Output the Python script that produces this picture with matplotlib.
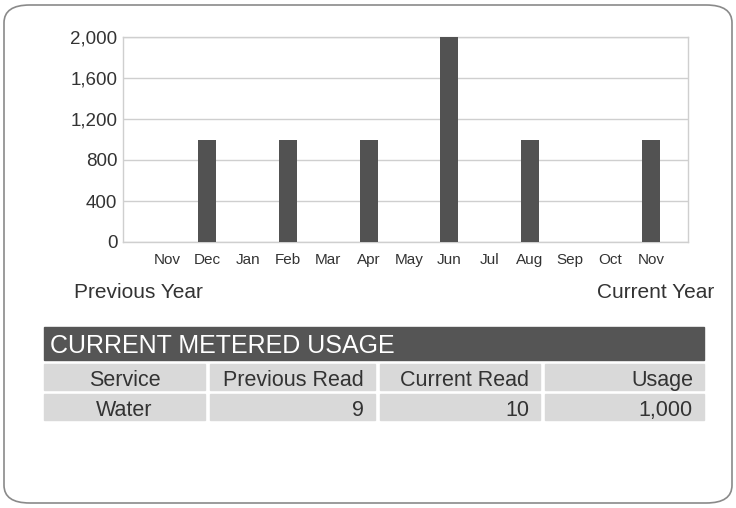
import matplotlib
matplotlib.use("Agg")
import matplotlib.pyplot as plt
from matplotlib.patches import FancyBboxPatch, Rectangle

plt.rcParams['font.family'] = ['Liberation Sans', 'DejaVu Sans']

months = ["Nov", "Dec", "Jan", "Feb", "Mar", "Apr", "May", "Jun", "Jul", "Aug", "Sep", "Oct", "Nov"]
usage = [0, 1000, 0, 1000, 0, 1000, 0, 2000, 0, 1000, 0, 0, 1000]
yticks = [0, 400, 800, 1200, 1600, 2000]
table_title = "CURRENT METERED USAGE"
table_header = ["Service", "Previous Read", "Current Read", "Usage"]
table_row = ["Water", "9", "10", "1,000"]

W, H = 736, 508
fig = plt.figure(figsize=(W / 100, H / 100), dpi=100)
fig.patch.set_facecolor("white")

def fx(px):
    return px / W

def fy(py):
    return 1 - py / H

# rounded outer border
border = FancyBboxPatch((fx(4), fy(503)), fx(728), 498 / H,
                        boxstyle="round,pad=0,rounding_size=0.035",
                        transform=fig.transFigure, fill=False,
                        edgecolor="#8a8a8a", linewidth=1.2)
fig.patches.append(border)

# chart
ax = fig.add_axes([fx(123), fy(242), fx(688 - 123), (242 - 37) / H])
x = list(range(len(months)))
ax.bar(x, usage, width=0.45, color="#525252", zorder=3)
ax.set_xlim(-1.09, 12.92)
ax.set_ylim(0, 2000)
ax.set_yticks(yticks)
ax.set_yticklabels([f"{v:,}" for v in yticks], fontsize=13.5, color="#333333")
ax.set_xticks(x)
ax.set_xticklabels(months, fontsize=11, color="#333333")
ax.tick_params(axis="both", length=0)
ax.tick_params(axis="y", pad=4)
ax.tick_params(axis="x", pad=8)
ax.grid(axis="y", color="#cfcfcf", linewidth=1, zorder=0)
for s in ax.spines.values():
    s.set_color("#cfcfcf")
    s.set_linewidth(1)

fig.text(fx(74), fy(298), "Previous Year", fontsize=15, color="#333333",
         ha="left", va="baseline")
fig.text(fx(714), fy(298), "Current Year", fontsize=15, color="#333333",
         ha="right", va="baseline")

# table
fig.patches.append(Rectangle((fx(44), fy(360)), fx(704 - 44), 33 / H,
                             transform=fig.transFigure, color="#555555"))
fig.text(fx(50), fy(353), table_title, fontsize=18, color="white",
         ha="left", va="baseline")

cols = [(44, 205), (210, 375), (380, 540), (545, 704)]
rows = [(364, 390), (394, 420)]
baselines = [386, 416]
for (y0, y1), yb, vals in zip(rows, baselines, [table_header, table_row]):
    for i, ((x0, x1), v) in enumerate(zip(cols, vals)):
        fig.patches.append(Rectangle((fx(x0), fy(y1)), fx(x1 - x0), (y1 - y0) / H,
                                     transform=fig.transFigure, color="#d9d9d9"))
        if i == 0:
            fig.text(fx((x0 + x1) / 2), fy(yb), v, fontsize=15.5, color="#333333",
                     ha="center", va="baseline")
        else:
            fig.text(fx(x1 - 11), fy(yb), v, fontsize=15.5, color="#333333",
                     ha="right", va="baseline")

fig.savefig("out.png", dpi=100)
